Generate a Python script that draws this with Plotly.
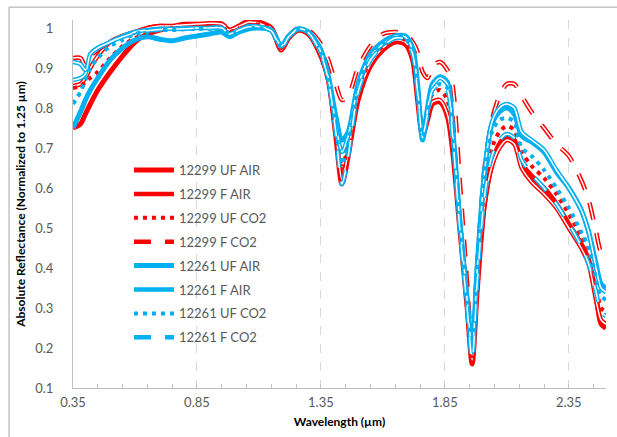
import plotly.graph_objects as go

wavelength = [0.35, 0.38, 0.40, 0.42, 0.45, 0.50, 0.55, 0.60, 0.65, 0.70,
              0.75, 0.80, 0.85, 0.90, 0.95, 0.98, 1.02, 1.06, 1.10, 1.15,
              1.19, 1.22, 1.26, 1.30, 1.35, 1.38, 1.41, 1.435, 1.46, 1.50,
              1.55, 1.60, 1.65, 1.69, 1.72, 1.74, 1.76, 1.78, 1.80, 1.83,
              1.86, 1.88, 1.91, 1.94, 1.96, 1.98, 2.01, 2.04, 2.07, 2.10,
              2.13, 2.16, 2.20, 2.25, 2.30, 2.35, 2.40, 2.43, 2.46, 2.48,
              2.50]

r12299_uf_air = [0.75, 0.76, 0.785, 0.81, 0.845, 0.89, 0.93, 0.965, 0.985, 0.995,
                 1.0, 1.005, 1.005, 1.01, 1.01, 0.995, 1.005, 1.018, 1.015, 1.0,
                 0.945, 0.975, 0.995, 0.985, 0.93, 0.87, 0.73, 0.61, 0.68, 0.82,
                 0.905, 0.945, 0.965, 0.96, 0.92, 0.82, 0.73, 0.77, 0.81, 0.815,
                 0.78, 0.70, 0.50, 0.30, 0.16, 0.34, 0.56, 0.66, 0.71, 0.73,
                 0.72, 0.66, 0.63, 0.60, 0.56, 0.51, 0.46, 0.42, 0.33, 0.26,
                 0.25]
r12299_f_air = [0.855, 0.86, 0.875, 0.90, 0.93, 0.965, 0.98, 0.99, 1.0, 1.005,
                1.005, 1.01, 1.01, 1.012, 1.01, 0.995, 1.005, 1.015, 1.012, 0.995,
                0.945, 0.975, 0.995, 0.985, 0.93, 0.87, 0.74, 0.62, 0.69, 0.83,
                0.91, 0.95, 0.97, 0.965, 0.925, 0.83, 0.74, 0.78, 0.815, 0.82,
                0.785, 0.71, 0.52, 0.32, 0.17, 0.35, 0.56, 0.655, 0.70, 0.72,
                0.71, 0.65, 0.615, 0.585, 0.55, 0.50, 0.45, 0.41, 0.32, 0.27,
                0.26]
r12299_uf_co2 = [0.85, 0.855, 0.865, 0.875, 0.89, 0.925, 0.955, 0.975, 0.985, 0.995,
                 1.0, 1.0, 1.0, 1.005, 1.005, 0.99, 1.0, 1.01, 1.008, 0.995,
                 0.95, 0.978, 0.997, 0.99, 0.94, 0.88, 0.77, 0.65, 0.71, 0.845,
                 0.92, 0.955, 0.975, 0.97, 0.935, 0.85, 0.75, 0.79, 0.835, 0.845,
                 0.82, 0.73, 0.52, 0.32, 0.18, 0.37, 0.60, 0.70, 0.74, 0.755,
                 0.745, 0.69, 0.655, 0.625, 0.585, 0.535, 0.48, 0.44, 0.36, 0.30,
                 0.29]
r12299_f_co2 = [0.925, 0.925, 0.905, 0.93, 0.945, 0.965, 0.98, 0.99, 1.0, 1.005,
                1.005, 1.008, 1.01, 1.012, 1.01, 0.998, 1.005, 1.015, 1.012, 1.0,
                0.955, 0.98, 1.0, 0.995, 0.96, 0.92, 0.86, 0.82, 0.83, 0.90,
                0.955, 0.985, 0.99, 0.985, 0.965, 0.94, 0.89, 0.875, 0.905, 0.915,
                0.895, 0.86, 0.62, 0.36, 0.20, 0.40, 0.65, 0.77, 0.83, 0.86,
                0.86, 0.83, 0.79, 0.75, 0.71, 0.68, 0.62, 0.57, 0.49, 0.44,
                0.43]
b12261_uf_air = [0.75, 0.79, 0.82, 0.845, 0.875, 0.92, 0.95, 0.97, 0.978, 0.972,
                 0.968, 0.975, 0.98, 0.985, 0.99, 0.978, 0.99, 0.998, 1.0, 0.995,
                 0.955, 0.98, 0.998, 0.99, 0.945, 0.88, 0.78, 0.72, 0.74, 0.86,
                 0.935, 0.965, 0.98, 0.98, 0.95, 0.86, 0.72, 0.80, 0.86, 0.878,
                 0.865, 0.76, 0.52, 0.32, 0.20, 0.40, 0.64, 0.76, 0.79, 0.80,
                 0.785, 0.73, 0.715, 0.69, 0.64, 0.60, 0.545, 0.49, 0.41, 0.36,
                 0.35]
b12261_f_air = [0.87, 0.875, 0.885, 0.935, 0.95, 0.965, 0.98, 0.99, 0.995, 0.998,
                0.998, 1.0, 1.0, 1.0, 1.0, 0.985, 0.995, 1.005, 1.003, 0.995,
                0.955, 0.98, 0.998, 0.99, 0.94, 0.875, 0.76, 0.69, 0.73, 0.855,
                0.93, 0.96, 0.98, 0.978, 0.945, 0.85, 0.725, 0.795, 0.855, 0.875,
                0.86, 0.755, 0.52, 0.32, 0.19, 0.39, 0.64, 0.765, 0.80, 0.81,
                0.80, 0.74, 0.72, 0.695, 0.645, 0.60, 0.545, 0.49, 0.40, 0.35,
                0.34]
b12261_uf_co2 = [0.81, 0.84, 0.87, 0.90, 0.925, 0.955, 0.97, 0.985, 0.99, 0.995,
                 0.995, 0.997, 0.998, 0.998, 0.998, 0.985, 0.993, 1.0, 1.0, 0.993,
                 0.953, 0.978, 0.997, 0.988, 0.94, 0.87, 0.75, 0.66, 0.71, 0.85,
                 0.925, 0.958, 0.978, 0.975, 0.94, 0.85, 0.73, 0.79, 0.845, 0.86,
                 0.85, 0.75, 0.51, 0.31, 0.19, 0.38, 0.62, 0.74, 0.77, 0.775,
                 0.765, 0.70, 0.68, 0.645, 0.60, 0.55, 0.49, 0.45, 0.37, 0.33,
                 0.32]
b12261_f_co2 = [0.915, 0.91, 0.895, 0.935, 0.95, 0.965, 0.978, 0.988, 0.993, 0.996,
                0.997, 0.998, 1.0, 1.0, 1.0, 0.985, 0.995, 1.003, 1.002, 0.993,
                0.95, 0.978, 0.997, 0.988, 0.935, 0.87, 0.74, 0.61, 0.68, 0.84,
                0.92, 0.955, 0.975, 0.972, 0.935, 0.84, 0.73, 0.785, 0.845, 0.86,
                0.845, 0.74, 0.50, 0.30, 0.17, 0.36, 0.58, 0.68, 0.72, 0.735,
                0.725, 0.67, 0.635, 0.60, 0.56, 0.51, 0.455, 0.41, 0.34, 0.29,
                0.28]

series_names = ["12299 UF AIR", "12299 F AIR", "12299 UF CO2", "12299 F CO2",
                "12261 UF AIR", "12261 F AIR", "12261 UF CO2", "12261 F CO2"]
series_values = [r12299_uf_air, r12299_f_air, r12299_uf_co2, r12299_f_co2,
                 b12261_uf_air, b12261_f_air, b12261_uf_co2, b12261_f_co2]
x_tick_vals = [0.35, 0.85, 1.35, 1.85, 2.35]
x_tick_text = ["0.35", "0.85", "1.35", "1.85", "2.35"]

for v in series_values:
    assert len(v) == len(wavelength)

RED = "#FF0000"
BLUE = "#00B0F0"
FONT = "Lato"

styles = [(RED, "solid"), (RED, "double"), (RED, "dot"), (RED, "dashdouble"),
          (BLUE, "solid"), (BLUE, "double"), (BLUE, "dot"), (BLUE, "dashdouble")]

fig = go.Figure()
for i, (name, vals, (col, kind)) in enumerate(zip(series_names, series_values, styles)):
    grp = f"g{i}"
    common = dict(x=wavelength, y=vals, mode="lines", legendgroup=grp,
                  line_shape="spline", hoverinfo="skip")
    if kind == "solid":
        fig.add_trace(go.Scatter(name=name, line=dict(color=col, width=5, smoothing=0.8), **common))
    elif kind == "double":
        fig.add_trace(go.Scatter(name=name, line=dict(color=col, width=4.5, smoothing=0.8), **common))
        fig.add_trace(go.Scatter(name=name, showlegend=False,
                                 line=dict(color="white", width=1.5, smoothing=0.8), **common))
    elif kind == "dot":
        fig.add_trace(go.Scatter(name=name, line=dict(color=col, width=4, dash="4px,5px", smoothing=0.8), **common))
    else:
        fig.add_trace(go.Scatter(name=name, line=dict(color=col, width=4.5, dash="17px,14px", smoothing=0.8), **common))
        fig.add_trace(go.Scatter(name=name, showlegend=False,
                                 line=dict(color="white", width=1.5, dash="17px,14px", smoothing=0.8), **common))

border = dict(color="#A6A6A6", width=1)
fig.update_layout(
    width=617, height=437, autosize=False,
    margin=dict(l=73, r=11, t=20, b=49),
    paper_bgcolor="white", plot_bgcolor="white",
    font=dict(family=FONT, size=13, color="#595959"),
    showlegend=True,
    legend=dict(x=0.105, y=0.633, xanchor="left", yanchor="top",
                bgcolor="rgba(0,0,0,0)", font=dict(family=FONT, size=13, color="#595959"),
                tracegroupgap=4, traceorder="grouped", itemwidth=40),
    shapes=[dict(type="line", xref="paper", yref="paper", x0=-0.12, x1=1.1, y0=1.035, y1=1.035, line=border),
            dict(type="line", xref="paper", yref="paper", x0=-0.12, x1=-0.12, y0=-0.2, y1=1.035, line=border)],
)
fig.update_xaxes(
    range=[0.35, 2.5], tickmode="array", tickvals=x_tick_vals, ticktext=x_tick_text,
    showgrid=True, gridcolor="#D9D9D9", griddash="dash", gridwidth=1,
    showline=True, linecolor="#BFBFBF", linewidth=1,
    ticks="inside", ticklen=4, tickcolor="#BFBFBF",
    minor=dict(dtick=0.1, tick0=0.35, ticks="inside", ticklen=4, tickcolor="#BFBFBF", showgrid=False),
    zeroline=False, ticklabelstandoff=2,
    tickfont=dict(family=FONT, size=13, color="#595959"),
    title=dict(text="<b>Wavelength (\u00b5m)</b>", font=dict(family=FONT, size=12, color="#000000"), standoff=9),
)
fig.update_yaxes(
    range=[0.1, 1.02], dtick=0.1, tick0=0.1,
    showgrid=False, zeroline=False,
    showline=True, linecolor="#BFBFBF", linewidth=1,
    ticks="outside", ticklen=16, tickcolor="rgba(0,0,0,0)",
    tickfont=dict(family=FONT, size=13, color="#595959"),
    title=dict(text="<b>Absolute Reflectance (Normalized to 1.25 \u00b5m)</b>",
               font=dict(family=FONT, size=12, color="#000000"), standoff=7),
)

fig.write_html("out.html", config={"displayModeBar": False},
               post_script="document.body.style.margin='0px';")
